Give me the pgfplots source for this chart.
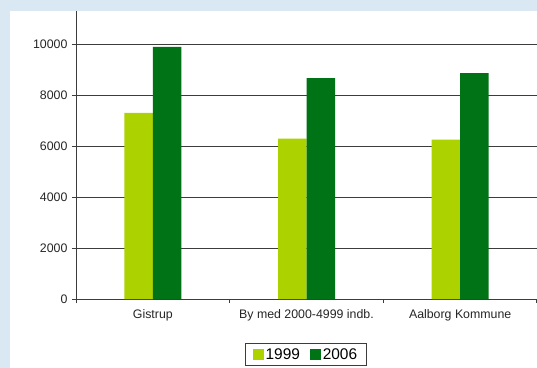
\documentclass[border=0pt]{standalone}
\usepackage{pgfplots}
\pgfplotsset{compat=1.18}
\usepackage{fontspec}
\setmainfont{Liberation Sans}
\definecolor{bgblue}{RGB}{217,232,243}
\definecolor{lightg}{RGB}{172,210,0}
\definecolor{darkg}{RGB}{0,115,22}
\definecolor{linec}{RGB}{60,60,60}
\begin{document}
\begin{tikzpicture}
\path[use as bounding box] (-76bp,-69bp) rectangle (461bp,299bp);
\fill[bgblue] (-76bp,-69bp) rectangle (461bp,299bp);
\fill[white] (-66bp,-69bp) rectangle (461bp,288bp);
\begin{axis}[
  at={(0,0)}, anchor=south west,
  scale only axis, width=461bp, height=288bp,
  xmin=-0.5, xmax=2.5, ymin=0, ymax=11300,
  axis x line*=bottom, axis y line*=left,
  axis line style={-, draw=linec, line width=0.8bp},
  ybar=0pt, bar width=28.5bp,
  xtick={0,1,2},
  xticklabels={Gistrup, By med 2000-4999 indb., Aalborg Kommune},
  major x tick style={draw=none},
  extra x ticks={-0.5,0.5,1.5,2.5},
  extra x tick labels={},
  extra x tick style={grid=none, major tick length=4bp, tick align=outside, major x tick style={draw=linec, line width=0.8bp}},
  ytick={0,2000,4000,6000,8000,10000},
  scaled y ticks=false,
  ytick align=outside, major tick length=4bp,
  tick style={draw=linec, line width=0.8bp},
  ymajorgrids, grid style={draw=linec, line width=0.8bp},
  /pgf/number format/assume math mode=true,
  /pgf/number format/1000 sep={},
  ticklabel style={font=\fontsize{12.4}{14}\selectfont, text=black!85},
  yticklabel style={xshift=-1bp},
  xticklabel style={yshift=-3bp},
  legend style={at={(230bp,-55.5bp)}, anchor=center, draw=linec, line width=0.8bp,
    font=\fontsize{15.5}{17}\selectfont, legend columns=2,
    inner xsep=7bp, inner ysep=3bp,
    /tikz/every even column/.append style={column sep=8bp}},
  legend image code/.code={\fill[#1,draw=none] (0bp,-5.2bp) rectangle (10.8bp,5.6bp);},
]
\addplot[fill=lightg, draw=none] coordinates {(0,7300) (1,6290) (2,6250)};
\addplot[fill=darkg, draw=none] coordinates {(0,9890) (1,8670) (2,8865)};
\legend{1999,2006}
\end{axis}
\foreach \gy in {0,50.973,101.947,152.92,203.89,254.87}
  \draw[draw=linec, line width=0.8bp] (430bp,\gy bp) -- (462bp,\gy bp);
\draw[draw=linec, line width=0.8bp] (460.3bp,0bp) -- (460.3bp,-4bp);
\end{tikzpicture}
\end{document}
